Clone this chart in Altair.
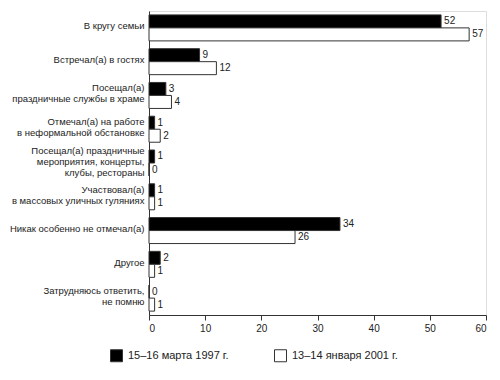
import altair as alt
import pandas as pd

categories = [
    "В кругу семьи",
    "Встречал(а) в гостях",
    "Посещал(а)\nпраздничные службы в храме",
    "Отмечал(а) на работе\nв неформальной обстановке",
    "Посещал(а) праздничные\nмероприятия, концерты,\nклубы, рестораны",
    "Участвовал(а)\nв массовых уличных гуляниях",
    "Никак особенно не отмечал(а)",
    "Другое",
    "Затрудняюсь ответить,\nне помню",
]
series = ["15–16 марта 1997 г.", "13–14 января 2001 г."]
values_1997 = [52, 9, 3, 1, 1, 1, 34, 2, 0]
values_2001 = [57, 12, 4, 2, 0, 1, 26, 1, 1]
x_ticks = [0, 10, 20, 30, 40, 50, 60]

rows = []
for c, a, b in zip(categories, values_1997, values_2001):
    rows.append({"cat": c, "series": series[0], "value": a})
    rows.append({"cat": c, "series": series[1], "value": b})
df = pd.DataFrame(rows)

FONT = "Liberation Sans"
TXT = "#222222"

y_enc = alt.Y(
    "cat:N",
    sort=categories,
    scale=alt.Scale(paddingInner=0.23, paddingOuter=0.115),
    axis=alt.Axis(
        title=None,
        ticks=False,
        grid=False,
        domain=True,
        domainColor="#333333",
        labelPadding=5,
        labelFontSize=9.5,
        labelLineHeight=11,
        labelOffset={"expr": "-(length(split(datum.value, '\\n')) - 1) * 5.5 - 1.5"},
        labelColor=TXT,
        labelFont=FONT,
        labelLimit=300,
        labelExpr="split(datum.label, '\\n')",
    ),
)
yoff = alt.YOffset("series:N", sort=series, scale=alt.Scale(paddingInner=0, paddingOuter=0))
x_enc = alt.X(
    "value:Q",
    scale=alt.Scale(domain=[0, 60], nice=False),
    axis=alt.Axis(
        title=None,
        values=x_ticks,
        grid=False,
        tickSize=5,
        tickColor="#333333",
        domainColor="#333333",
        labelFontSize=10,
        labelColor=TXT,
        labelFont=FONT,
        labelPadding=3,
    ),
)

bars = alt.Chart(df).mark_bar(stroke="#333333", strokeWidth=1).encode(
    x=x_enc,
    y=y_enc,
    yOffset=yoff,
    fill=alt.Fill(
        "series:N",
        sort=series,
        scale=alt.Scale(domain=series, range=["#000000", "#ffffff"]),
        legend=alt.Legend(
            title=None,
            orient="none",
            direction="horizontal",
            legendX=-39,
            legendY=338,
            columns=2,
            columnPadding=43,
            symbolType="square",
            symbolSize=144,
            symbolStrokeColor="#333333",
            symbolStrokeWidth=1,
            labelFontSize=11,
            labelFont=FONT,
            labelColor=TXT,
            labelOffset=5,
            padding=0,
        ),
    ),
)

labels = alt.Chart(df).mark_text(
    align="left", baseline="middle", dx=3, fontSize=10, font=FONT, color=TXT
).encode(
    x=alt.X("value:Q"),
    y=alt.Y("cat:N", sort=categories),
    yOffset=alt.YOffset("series:N", sort=series),
    text=alt.Text("value:Q"),
)

chart = (
    alt.layer(bars, labels)
    .properties(
        width=337,
        height=304,
        autosize=alt.AutoSizeParams(type="none"),
        padding={"left": 141, "top": 3, "right": 4, "bottom": 50},
    )
    .configure_view(stroke=None)
    .configure(background="white")
)

chart.save("out.html", embed_options={"renderer": "svg", "actions": False})
